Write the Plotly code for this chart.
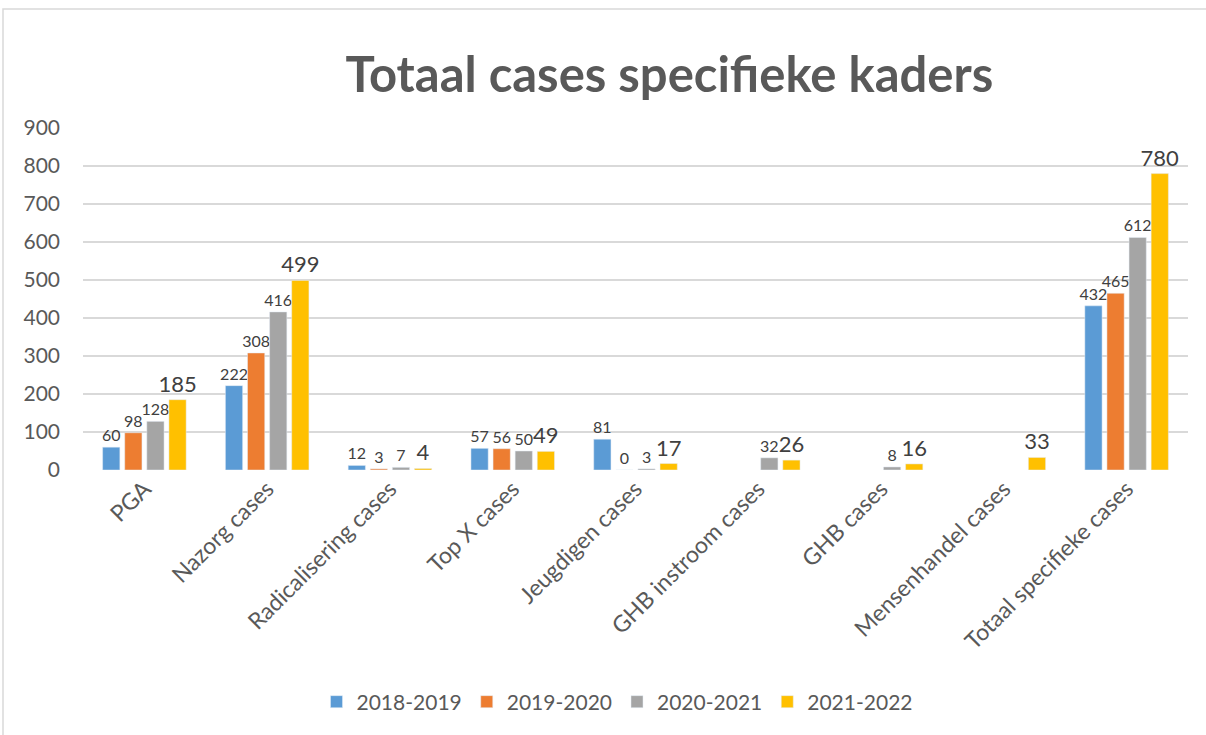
import plotly.graph_objects as go

categories = ["PGA", "Nazorg cases", "Radicalisering cases", "Top X cases", "Jeugdigen cases",
              "GHB instroom cases", "GHB cases", "Mensenhandel cases", "Totaal specifieke cases"]
series_names = ["2018-2019", "2019-2020", "2020-2021", "2021-2022"]
v2018 = [60, 222, 12, 57, 81, None, None, None, 432]
v2019 = [98, 308, 3, 56, 0, None, None, None, 465]
v2020 = [128, 416, 7, 50, 3, 32, 8, None, 612]
v2021 = [185, 499, 4, 49, 17, 26, 16, 33, 780]
y_ticks = [0, 100, 200, 300, 400, 500, 600, 700, 800, 900]

colors = ["#5B9BD5", "#ED7D31", "#A5A5A5", "#FFC000"]
label_sizes = [16, 16, 16, 22]
FONT = "Lato"

fig = go.Figure()
for name, vals, col, ls in zip(series_names, [v2018, v2019, v2020, v2021], colors, label_sizes):
    fig.add_trace(go.Bar(
        x=categories, y=vals, name=name, marker_color=col,
        text=[("" if v is None else str(v)) for v in vals],
        textposition="outside", textfont=dict(size=ls, color="#404040", family=FONT),
        constraintext="none", cliponaxis=False,
    ))

L, R, T, B = 83, 18, 128, 265
W, H = 1206, 735
pw, ph = W - L - R, H - T - B

fig.update_layout(
    width=W, height=H,
    margin=dict(l=L, r=R, t=T, b=B, autoexpand=False),
    paper_bgcolor="white", plot_bgcolor="white",
    barmode="group", bargap=0.28, bargroupgap=0.22,
    font=dict(family=FONT, color="#595959"),
    title=dict(text="<b>Totaal cases specifieke kaders</b>", x=0.555, xref="container", xanchor="center",
               y=1 - 75 / H, yref="container", yanchor="middle",
               font=dict(size=49, color="#595959", family=FONT)),
    xaxis=dict(tickangle=-45, tickfont=dict(size=23, color="#595959"), showgrid=False,
               showline=False, ticks="", automargin=False),
    yaxis=dict(range=[0, 900], tickvals=y_ticks, tickfont=dict(size=21, color="#595959"),
               showgrid=True, gridcolor="#D9D9D9", gridwidth=1.5, zeroline=False, showline=False,
               ticks="", ticklabelstandoff=22, automargin=False),
    legend=dict(orientation="h", x=(617 - L) / pw, xanchor="center", y=-(702 - (T + ph)) / ph,
                yanchor="middle", font=dict(size=21, color="#595959"), itemwidth=30,
                traceorder="normal"),
    shapes=[dict(type="rect", xref="paper", yref="paper",
                 x0=(3 - L) / pw, x1=(1215 - L) / pw,
                 y0=-(745 - (T + ph)) / ph, y1=((T + ph) - 9) / ph,
                 line=dict(color="#D9D9D9", width=1.5), layer="below")],
)

fig.write_html("out.html", config={"displayModeBar": False},
               post_script="document.body.style.margin='0';document.body.style.padding='0';")
